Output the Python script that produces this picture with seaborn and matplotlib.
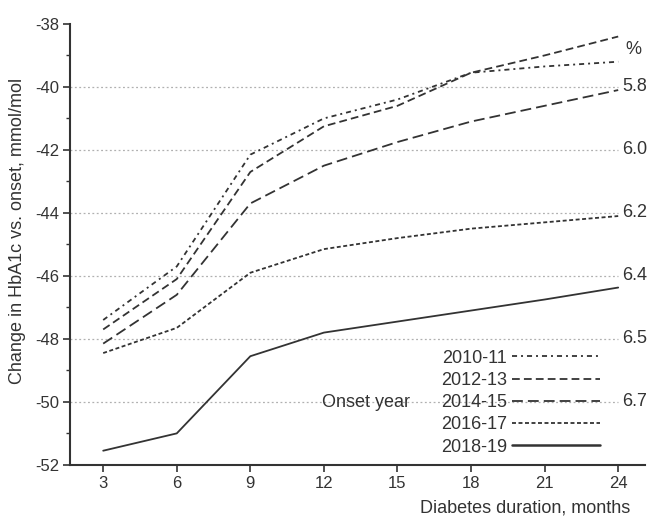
import numpy as np
import pandas as pd
import seaborn as sns
import matplotlib
matplotlib.use("Agg")
import matplotlib.pyplot as plt
from matplotlib.lines import Line2D

months = [3, 6, 9, 12, 15, 18, 21, 24]
onset_years = ["2010-11", "2012-13", "2014-15", "2016-17", "2018-19"]
v_2010_11 = [-47.4, -45.7, -42.15, -41.0, -40.4, -39.55, -39.35, -39.2]
v_2012_13 = [-47.7, -46.1, -42.7, -41.25, -40.6, -39.55, -39.0, -38.4]
v_2014_15 = [-48.15, -46.6, -43.7, -42.5, -41.75, -41.1, -40.6, -40.1]
v_2016_17 = [-48.45, -47.65, -45.9, -45.15, -44.8, -44.5, -44.3, -44.1]
v_2018_19 = [-51.55, -51.0, -48.55, -47.8, -47.45, -47.1, -46.75, -46.37]
y_ticks = [-52, -50, -48, -46, -44, -42, -40, -38]
grid_levels = [-50, -48, -46, -44, -42, -40]
pct_labels = ["6.7", "6.5", "6.4", "6.2", "6.0", "5.8"]

series = [v_2010_11, v_2012_13, v_2014_15, v_2016_17, v_2018_19]
df = pd.DataFrame({
    "month": months * len(onset_years),
    "value": [v for s in series for v in s],
    "Onset year": [y for y in onset_years for _ in months],
})

sns.set_theme(style="white")
plt.rcParams["font.family"] = ["Liberation Sans", "DejaVu Sans"]
col = "#333333"
dashes = {
    "2010-11": (2.8, 2.2, 1.1, 2.2),
    "2012-13": (4.3, 2.3),
    "2014-15": (6.0, 2.8),
    "2016-17": (2.2, 1.4),
    "2018-19": "",
}

fig = plt.figure(figsize=(6.55, 5.2), dpi=100)
ax = fig.add_axes([0.107, 0.106, 0.878, 0.848])

xmin, xmax = 1.65, 25.1
for g in grid_levels:
    ax.hlines(g, xmin, 24, colors="#b0b0b0", linestyles=(0, (1.5, 2)), linewidth=0.9, zorder=1)

sns.lineplot(data=df, x="month", y="value", style="Onset year", dashes=dashes,
             color=col, linewidth=1.3, ax=ax, legend=False, zorder=3)

ax.set_xlim(xmin, xmax)
ax.set_ylim(-52, -38)
ax.set_xticks(months)
ax.set_xticklabels([str(m) for m in months])
ax.set_yticks(y_ticks)
ax.set_yticklabels([str(t) for t in y_ticks])
ax.set_yticks(np.arange(-51, -38, 2), minor=True)
ax.tick_params(axis="both", which="major", direction="out", length=5, width=1.2,
               colors=col, labelsize=12, pad=3)
ax.tick_params(axis="y", which="minor", direction="out", length=3, width=1.0, colors=col, left=True)
ax.tick_params(axis="x", which="major", bottom=True)
ax.tick_params(axis="y", which="major", left=True)
for s in ["top", "right"]:
    ax.spines[s].set_visible(False)
for s in ["left", "bottom"]:
    ax.spines[s].set_color(col)
    ax.spines[s].set_linewidth(1.5)

ax.set_ylabel("Change in HbA1c vs. onset, mmol/mol", fontsize=13, color=col)
ax.yaxis.set_label_coords(-0.077, 0.53)
ax.set_xlabel("Diabetes duration, months", fontsize=13, color=col, ha="right")
ax.xaxis.set_label_coords(0.974, -0.079)

for g, lab in zip(grid_levels, pct_labels):
    ax.text(24.15, g, lab, ha="left", va="center", fontsize=13, color=col)
ax.text(24.3, -38.8, "%", ha="left", va="center", fontsize=13, color=col)

handles = [Line2D([], [], color=col, linewidth=1.3,
                  dashes=(dashes[y] if dashes[y] else (None, None))) for y in onset_years]
handles[-1] = Line2D([], [], color=col, linewidth=1.8, linestyle="-")
leg = ax.legend(handles, onset_years, loc="upper right", bbox_to_anchor=(0.922, 0.261),
                frameon=False, markerfirst=False, fontsize=13, handlelength=4.9,
                handletextpad=0.27, labelspacing=0.29, borderpad=0, borderaxespad=0)
for t in leg.get_texts():
    t.set_color(col)
ax.text(0.438, 0.141, "Onset year", transform=ax.transAxes, ha="left", va="center",
        fontsize=13, color=col)

fig.savefig("out.png", dpi=100)
